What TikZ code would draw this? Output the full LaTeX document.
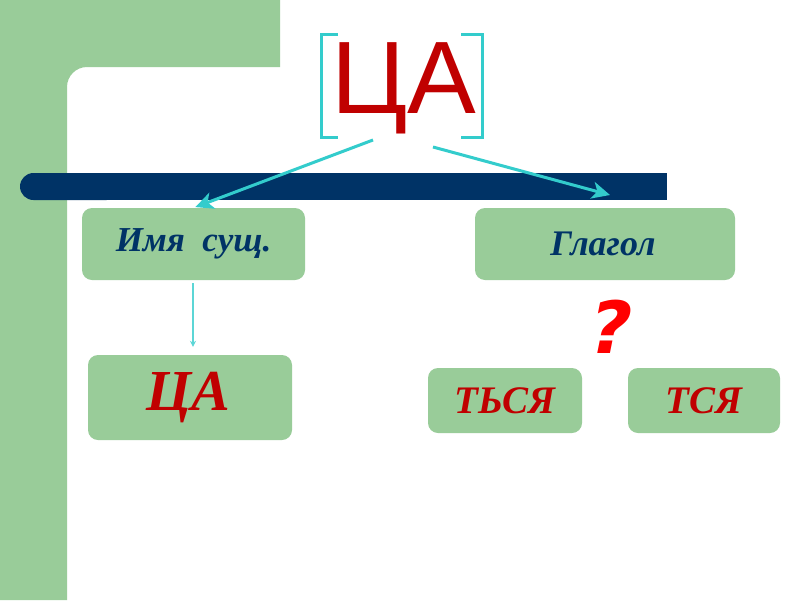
\documentclass[tikz,border=0pt]{standalone}
\usepackage{fontspec}
\setmainfont{Liberation Serif}
\newfontfamily\sansf{Liberation Sans}
\newfontfamily\qfont{DejaVu Sans}
\usetikzlibrary{arrows.meta}
\definecolor{bggreen}{RGB}{153,204,153}
\definecolor{barblue}{RGB}{0,51,102}
\definecolor{cyanline}{RGB}{51,204,204}
\definecolor{darkred}{RGB}{192,0,0}
\definecolor{qred}{RGB}{255,0,0}
\tikzset{
  box/.style={fill=bggreen, rounded corners=10pt, inner sep=0pt},
  bluetext/.style={text=barblue, font=\fontsize{#1}{#1}\selectfont\bfseries\itshape},
  redtext/.style={text=darkred, font=\fontsize{#1}{#1}\selectfont\bfseries\itshape},
  bigarrow/.style={cyanline, line width=3pt, -{Stealth[length=18pt,width=17pt,inset=5pt]}},
  thinarrow/.style={cyanline!80!white, line width=1.5pt, -{Stealth[length=6pt,width=6pt]}},
  bracket/.style={cyanline, line width=3pt}
}
\begin{document}
\begin{tikzpicture}[x=1pt,y=-1pt]
\useasboundingbox (0,0) rectangle (800,600);
% background
\fill[white] (0,0) rectangle (800,600);
\fill[bggreen] (0,0) -- (280,0) -- (280,67) -- (87,67)
  arc[start angle=90, end angle=180, radius=20pt] -- (67,600) -- (0,600) -- cycle;
% bar
\fill[barblue, rounded corners=13.5pt] (20,173) rectangle (120,200);
\fill[barblue] (60,173) rectangle (667,200);
% title
\node[anchor=base, inner sep=0pt, text=darkred, font=\sansf\fontsize{103}{103}\selectfont] (title) at (403.5,113) {ЦА};
\draw[bracket] (338,34.5) -- (321.5,34.5) -- (321.5,137.5) -- (338,137.5);
\draw[bracket] (461,34.5) -- (482.5,34.5) -- (482.5,137.5) -- (461,137.5);
% boxes
\node[box, minimum width=223pt, minimum height=72pt] (noun) at (193.5,244) {};
\node[bluetext=35] at (noun.center) {Имя\ \ сущ.};
\node[box, minimum width=260pt, minimum height=72pt] (verb) at (605,244) {};
\node[bluetext=36] at ([xshift=-2pt]verb.center) {Глагол};
\node[box, minimum width=204pt, minimum height=85pt] (ca) at (190,397.5) {};
\node[redtext=58] at ([xshift=-2pt]ca.center) {ЦА};
\node[box, minimum width=154pt, minimum height=65pt] (tsya1) at (505,400.5) {};
\node[redtext=39] at (tsya1.center) {ТЬСЯ};
\node[box, minimum width=152pt, minimum height=65pt] (tsya2) at (704,400.5) {};
\node[redtext=39] at (tsya2.center) {ТСЯ};
% question mark
\node[text=qred, draw=darkred, font=\qfont\fontsize{72}{72}\selectfont\bfseries, xslant=0.2, inner sep=0pt, draw=none] (q) at (612,327) {?};
% arrows
\coordinate (ls) at (373,140);
\coordinate (rs) at (433,147);
\coordinate (rt) at (610,195);
\draw[bigarrow, shorten >=2pt] (ls) -- (noun.north);
\draw[bigarrow] (rs) -- (rt);
\draw[thinarrow, shorten <=3pt, shorten >=8pt] ([xshift=-0.5pt]noun.south) -- ([xshift=-0.5pt]noun.south |- ca.north);
\end{tikzpicture}
\end{document}
